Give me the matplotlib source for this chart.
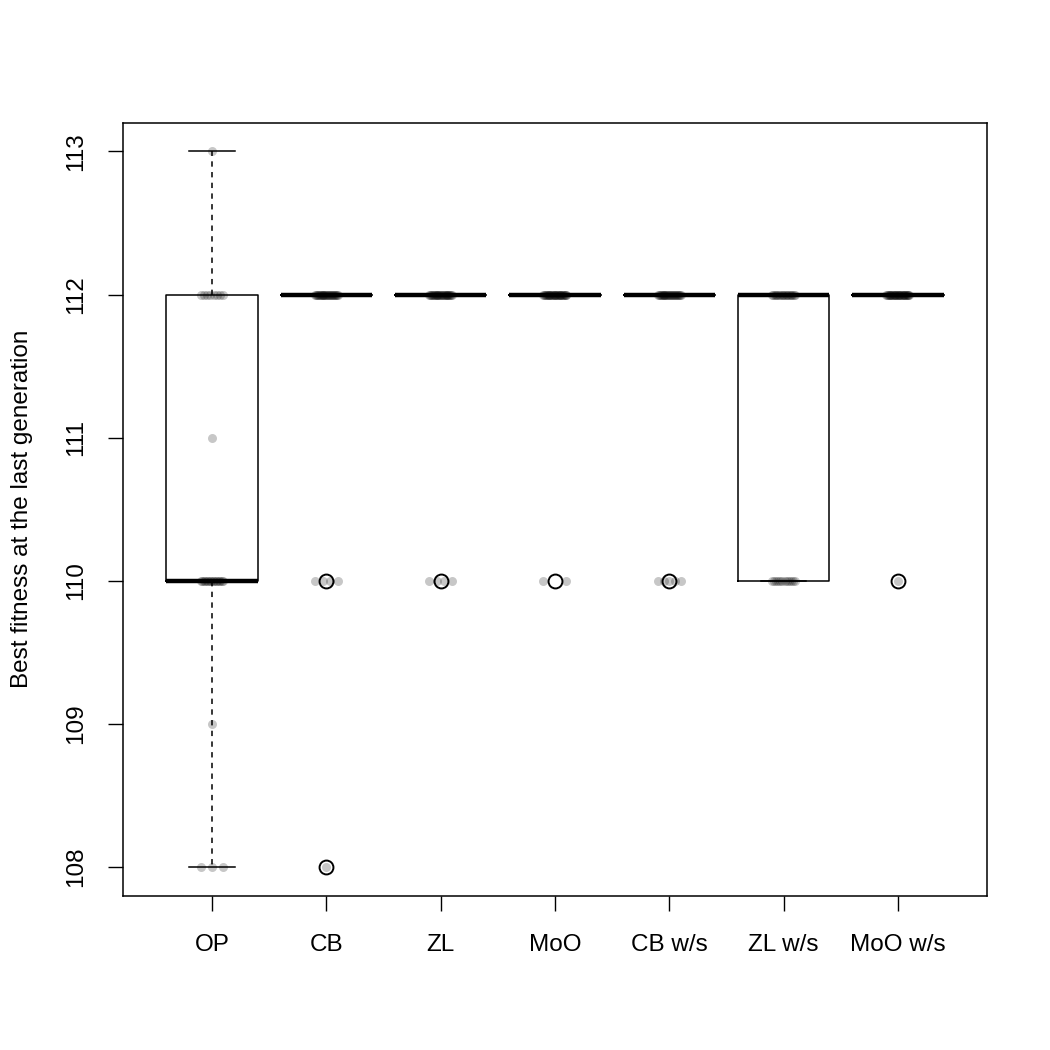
import numpy as np
import matplotlib
matplotlib.use('Agg')
import matplotlib.pyplot as plt

plt.rcParams['font.family'] = ['Liberation Sans', 'DejaVu Sans']

# methods and best fitness counts (value -> number of runs)
methods = ['OP', 'CB', 'ZL', 'MoO', 'CB w/s', 'ZL w/s', 'MoO w/s']
values = [108, 109, 110, 111, 112, 113]
op_counts = [3, 1, 16, 1, 8, 1]
cb_counts = [1, 0, 4, 0, 25, 0]
zl_counts = [0, 0, 4, 0, 26, 0]
moo_counts = [0, 0, 2, 0, 28, 0]
cbws_counts = [0, 0, 5, 0, 25, 0]
zlws_counts = [0, 0, 12, 0, 18, 0]
moows_counts = [0, 0, 1, 0, 29, 0]

all_counts = [op_counts, cb_counts, zl_counts, moo_counts,
              cbws_counts, zlws_counts, moows_counts]
groups = [np.repeat(values, c) for c in all_counts]


def tukey_stats(x, label):
    x = np.sort(x)
    n = len(x)
    med = np.median(x)
    lower = x[: (n + 1) // 2]
    upper = x[n // 2:]
    q1 = np.median(lower)
    q3 = np.median(upper)
    iqr = q3 - q1
    inside = x[(x >= q1 - 1.5 * iqr) & (x <= q3 + 1.5 * iqr)]
    fliers = x[(x < q1 - 1.5 * iqr) | (x > q3 + 1.5 * iqr)]
    return dict(med=med, q1=q1, q3=q3, whislo=inside.min(),
                whishi=inside.max(), fliers=np.unique(fliers), label=label)


stats = [tukey_stats(g, m) for g, m in zip(groups, methods)]

fig = plt.figure(figsize=(10.5, 10.5), dpi=100)
ax = fig.add_axes([0.117, 0.147, 0.823, 0.736])

pos = np.arange(1, len(methods) + 1)
ax.bxp(stats, positions=pos, widths=0.8, showfliers=True,
       boxprops=dict(color='black', linewidth=1.1),
       medianprops=dict(color='black', linewidth=3.2, solid_capstyle='butt'),
       whiskerprops=dict(color='black', linewidth=1.1, linestyle=(0, (3.5, 3.5))),
       capprops=dict(color='black', linewidth=1.1),
       capwidths=0.4,
       flierprops=dict(marker='o', markerfacecolor='none', markeredgecolor='black',
                       markersize=10, markeredgewidth=1.4))

# jittered points (spread duplicates evenly around the group position)
for p, g in zip(pos, groups):
    for v in np.unique(g):
        k = int((g == v).sum())
        offs = np.linspace(-0.1, 0.1, k) if k > 1 else np.array([0.0])
        ax.scatter(p + offs, np.full(k, v), s=42, color='black', alpha=0.22,
                   linewidths=0, zorder=3)

ax.set_xlim(0.22, 7.78)
ax.set_ylim(107.8, 113.2)
ax.set_xticks(pos)
ax.set_xticklabels(methods)
ax.set_yticks([108, 109, 110, 111, 112, 113])
ax.set_yticklabels(['108', '109', '110', '111', '112', '113'], rotation=90, va='center')
ax.tick_params(axis='both', labelsize=17.5, length=10.8, width=1, colors='black')
ax.tick_params(axis='x', pad=16.5)
ax.tick_params(axis='y', pad=15)
for s in ax.spines.values():
    s.set_linewidth(1.1)
ax.set_ylabel('Best fitness at the last generation', fontsize=17.5, labelpad=23)

fig.savefig('out.png', dpi=100)
